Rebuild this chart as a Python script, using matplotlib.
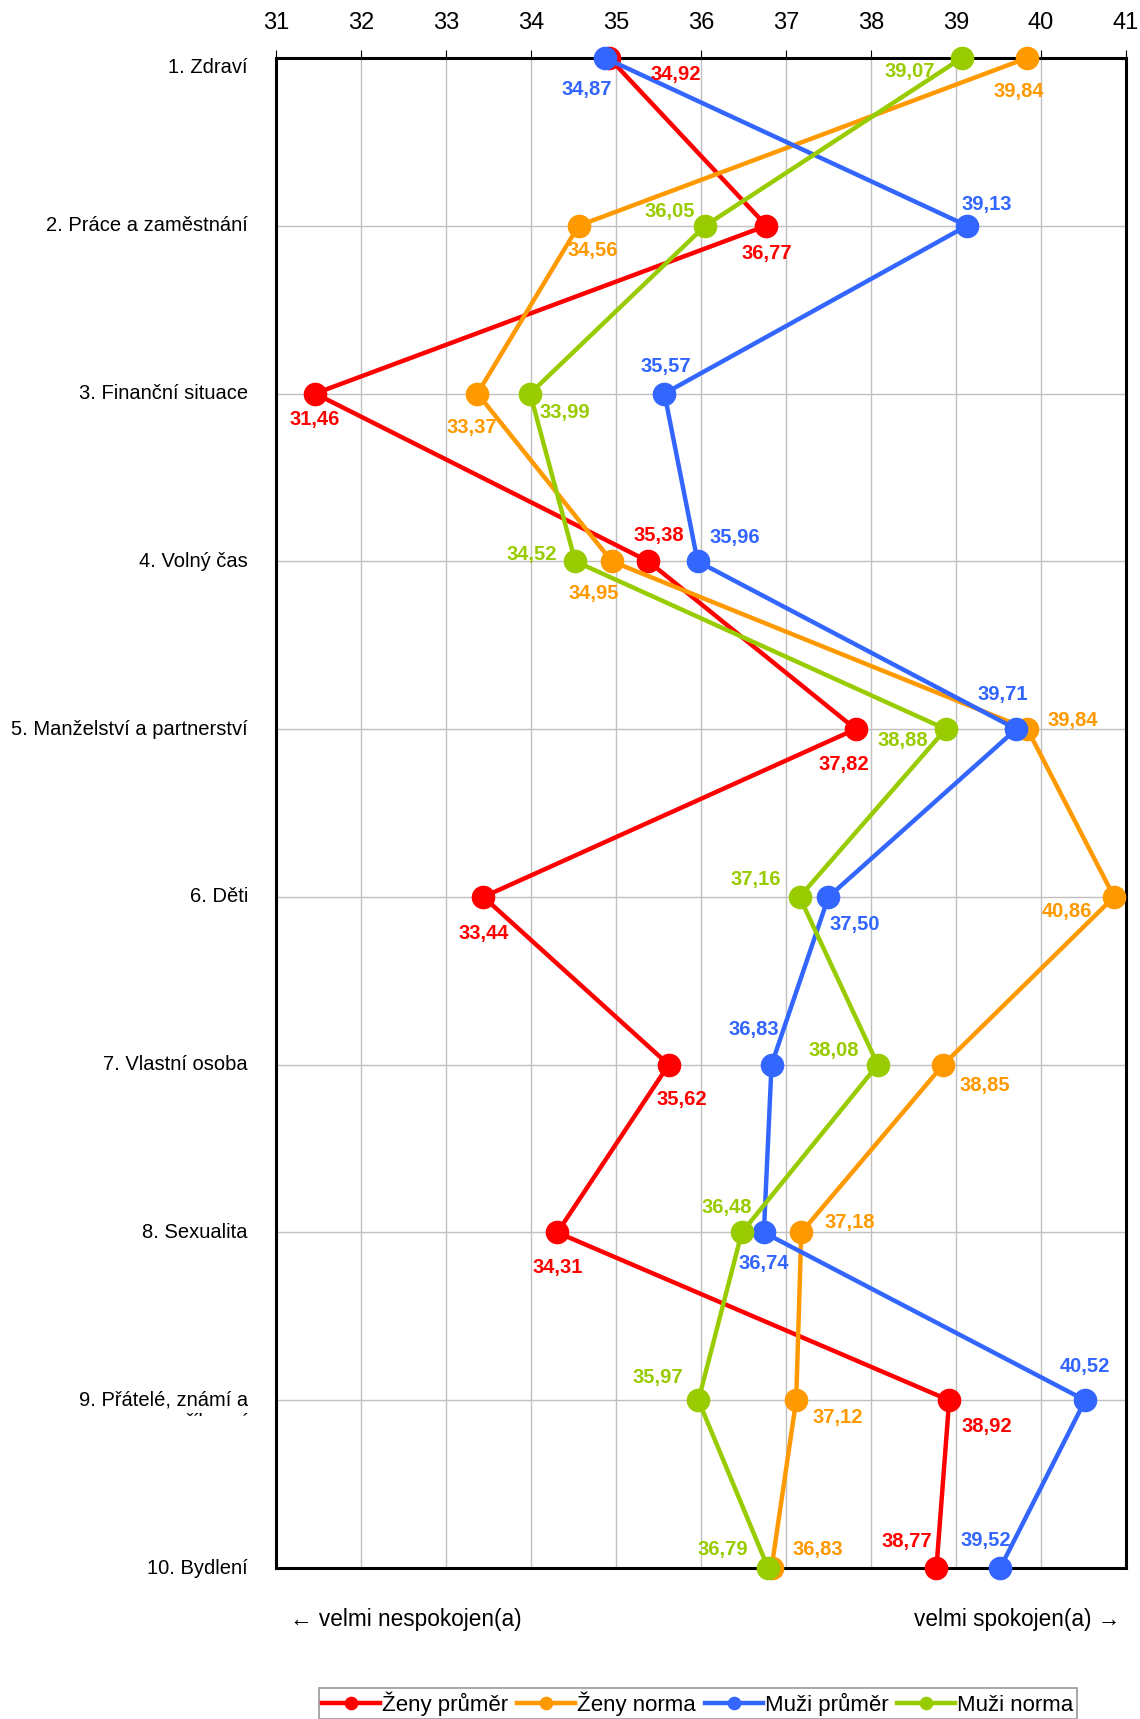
import matplotlib
matplotlib.use("Agg")
import matplotlib.pyplot as plt
from matplotlib import font_manager
from matplotlib.transforms import Bbox, offset_copy

plt.rcParams['font.family'] = ['Liberation Sans', 'DejaVu Sans']

categories = ["1. Zdraví", "2. Práce a zaměstnání", "3. Finanční situace",
              "4. Volný čas", "5. Manželství a partnerství", "6. Děti",
              "7. Vlastní osoba", "8. Sexualita", "9. Přátelé, známí a\npříbuzní",
              "10. Bydlení"]

zeny_prumer = [34.92, 36.77, 31.46, 35.38, 37.82, 33.44, 35.62, 34.31, 38.92, 38.77]
zeny_norma = [39.84, 34.56, 33.37, 34.95, 39.84, 40.86, 38.85, 37.18, 37.12, 36.83]
muzi_prumer = [34.87, 39.13, 35.57, 35.96, 39.71, 37.50, 36.83, 36.74, 40.52, 39.52]
muzi_norma = [39.07, 36.05, 33.99, 34.52, 38.88, 37.16, 38.08, 36.48, 35.97, 36.79]

series = [
    ("Ženy průměr", zeny_prumer, "#FF0000"),
    ("Ženy norma", zeny_norma, "#FF9900"),
    ("Muži průměr", muzi_prumer, "#3366FF"),
    ("Muži norma", muzi_norma, "#99CC00"),
]

# label offsets (px, y down) for each point
offsets = {
    "Ženy průměr": [(61, 15), (0, 25), (0, 24), (10, -24), (-11, 32), (0, 33),
                    (12, 32), (0, 32), (34, 24), (-27, -24)],
    "Ženy norma": [(-8, 31), (13, 23), (-5, 31), (-16, 29), (41, -8), (-43, 13),
                   (38, 19), (44, -9), (38, 16), (42, -17)],
    "Muži průměr": [(-17, 29), (18, -19), (1, -25), (34, -22), (-12, -32), (24, 25),
                    (-16, -32), (0, 28), (0, -31), (-13, -25)],
    "Muži norma": [(-48, 12), (-32, -13), (32, 17), (-40, -6), (-39, 10), (-40, -16),
                   (-40, -13), (-14, -23), (-37, -21), (-41, -17)],
}
scale = 1.096

fig = plt.figure(figsize=(11.4, 17.19), dpi=100)
ax = fig.add_axes([0.2421, 0.0878, 0.7456, 0.8785])

ypos = list(range(len(categories)))
for name, vals, col in series:
    ax.plot(vals, ypos, color=col, lw=3.2, marker='o', ms=16, label=name,
            clip_on=False, zorder=3)
    for v, y, (dx, dy) in zip(vals, ypos, offsets[name]):
        ax.annotate(f"{v:.2f}".replace(".", ","), (v, y),
                    xytext=(dx * scale, -dy * scale), textcoords='offset pixels',
                    ha='center', va='center', color=col, fontsize=14.5,
                    fontweight='bold', zorder=4)

ax.set_xlim(31, 41)
ax.set_ylim(9, 0)
ax.set_xticks(range(31, 42))
ax.xaxis.tick_top()
ax.tick_params(axis='x', labelsize=17, length=6, direction='out', pad=11)
ax.tick_params(axis='y', length=0)
ax.set_yticks(ypos)
ax.set_yticklabels([])
ax.grid(True, color='#C0C0C0', lw=1)
ax.set_axisbelow(True)
for s in ax.spines.values():
    s.set_linewidth(2.2)

# category labels (the wrapped second line of item 9 is cut off in the original)
clip = Bbox.from_extents(0, 1719 - 1416, 270, 1719)
ytrans = ax.get_yaxis_transform()
for i, (y, cat) in enumerate(zip(ypos, categories)):
    lines = cat.split("\n")
    tr = offset_copy(ytrans, fig=fig, y=-10, units='dots') if i == 0 else ytrans
    ax.text(-0.033, y, lines[0], transform=tr,
            ha='right', va='center', fontsize=14.5)
    if len(lines) > 1:
        t = ax.text(-0.033, y + 0.135, lines[1], transform=ytrans,
                    ha='right', va='center', fontsize=14.5)
        t.set_clip_box(clip)
        t.set_clip_on(True)

fig.text(290 / 1140, 1 - 1619 / 1719, "← velmi nespokojen(a)", fontsize=16.3,
         ha='left', va='center')
fig.text(1120 / 1140, 1 - 1619 / 1719, "velmi spokojen(a) →", fontsize=16.3,
         ha='right', va='center')

names = {f.name for f in font_manager.fontManager.ttflist}
if 'Liberation Sans Narrow' in names:
    leg_font = {'family': 'Liberation Sans Narrow', 'size': 19.5}
else:
    leg_font = {'family': 'Liberation Sans', 'size': 16}
leg = fig.legend(loc='upper center', bbox_to_anchor=(0.6123, 1 - 1688 / 1719),
                 ncol=4, prop=leg_font, frameon=True, fancybox=False,
                 edgecolor='#808080', handlelength=2.6, handletextpad=0.1,
                 columnspacing=0.4, borderpad=0.15, borderaxespad=0,
                 markerscale=0.55)
leg.get_frame().set_linewidth(1.2)

fig.savefig("out.png", dpi=100)
